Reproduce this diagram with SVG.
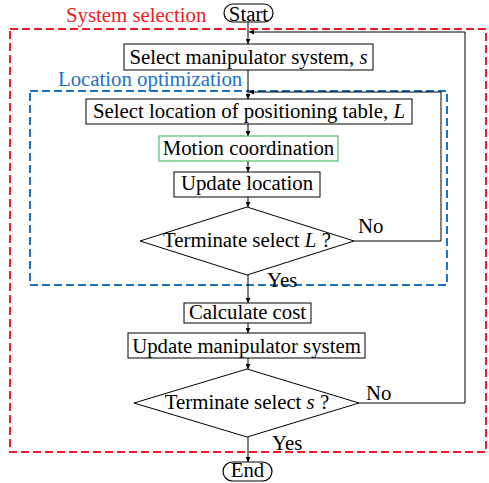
<svg xmlns="http://www.w3.org/2000/svg" width="489" height="483" viewBox="0 0 489 483">
  <defs>
    <marker id="arr" viewBox="0 0 6 6" refX="6" refY="3" markerWidth="5" markerHeight="5" orient="auto" markerUnits="userSpaceOnUse">
      <path d="M0,0 L6,3 L0,6 z" fill="#000"/>
    </marker>
  </defs>
  <style>
    text { font-family: "Liberation Serif", "Times New Roman", serif; font-size: 20.8px; fill: #000; }
    .box { fill: #fff; stroke: #000; stroke-width: 1; }
    .pill { fill: #fff; stroke: #000; stroke-width: 1.2; }
    .arrow { fill: none; stroke: #000; stroke-width: 1; marker-end: url(#arr); }
    .red { fill: none; stroke: #ee1c24; stroke-width: 2; stroke-dasharray: 8 4; }
    .blue { fill: none; stroke: #1a73c8; stroke-width: 2; stroke-dasharray: 8 4; }
    .c { text-anchor: middle; }
  </style>
  <rect width="489" height="483" fill="#fff"/>

  <!-- group frames -->
  <rect class="red" x="10" y="29" width="476" height="423"/>
  <text x="66" y="21.5" style="fill:#ee1c24">System selection</text>
  <rect class="blue" x="30" y="91" width="417" height="194"/>
  <text x="58" y="86" style="fill:#1a73c8">Location optimization</text>

  <!-- connectors -->
  <g id="connectors">
    <path class="arrow" d="M248,22 V44"/>
    <path class="arrow" d="M248,70 V99"/>
    <path class="arrow" d="M248,124 V136"/>
    <path class="arrow" d="M248,161 V172"/>
    <path class="arrow" d="M248,197 V207"/>
    <path class="arrow" d="M248,275 V303"/>
    <path class="arrow" d="M248,323 V333"/>
    <path class="arrow" d="M248,358 V369"/>
    <path class="arrow" d="M248,437 V462"/>
    <path class="arrow" d="M354,241 H441 V92 H249"/>
    <path class="arrow" d="M359,403 H465 V32 H249"/>
    <text x="358" y="232.7">No</text>
    <text x="267" y="286.7">Yes</text>
    <text x="366" y="400">No</text>
    <text x="272" y="450">Yes</text>
  </g>

  <g id="start">
    <rect class="pill" x="224" y="4" width="49" height="18" rx="9"/>
    <text class="c" x="248.5" y="20.5">Start</text>
  </g>
  <g id="select-system">
    <rect class="box" x="124" y="44" width="249" height="26"/>
    <text class="c" x="248.5" y="64">Select manipulator system, <tspan font-style="italic">s</tspan></text>
  </g>
  <g id="select-location">
    <rect class="box" x="86" y="99" width="326" height="25"/>
    <text class="c" x="249" y="117.5">Select location of positioning table, <tspan font-style="italic">L</tspan></text>
  </g>
  <g id="motion-coordination">
    <rect class="box" x="159" y="136" width="179" height="25" style="stroke:#2db34a"/>
    <text class="c" x="248.5" y="154.5">Motion coordination</text>
  </g>
  <g id="update-location">
    <rect class="box" x="174" y="172" width="146" height="25"/>
    <text class="c" x="247" y="189.5">Update location</text>
  </g>
  <g id="terminate-L">
    <polygon class="box" points="140,241 247,207 354,241 247,275"/>
    <text class="c" x="247" y="246.7">Terminate select <tspan font-style="italic">L</tspan> ?</text>
  </g>
  <g id="calculate-cost">
    <rect class="box" x="184" y="303" width="127" height="20"/>
    <text class="c" x="247.5" y="319">Calculate cost</text>
  </g>
  <g id="update-system">
    <rect class="box" x="128" y="333" width="237" height="25"/>
    <text class="c" x="246.5" y="352.7">Update manipulator system</text>
  </g>
  <g id="terminate-s">
    <polygon class="box" points="134,403 247,369 359,403 247,437"/>
    <text class="c" x="247" y="409">Terminate select <tspan font-style="italic">s</tspan> ?</text>
  </g>
  <g id="end">
    <rect class="pill" x="223" y="462" width="49" height="19" rx="9.5"/>
    <text class="c" x="247.5" y="477">End</text>
  </g>
</svg>
